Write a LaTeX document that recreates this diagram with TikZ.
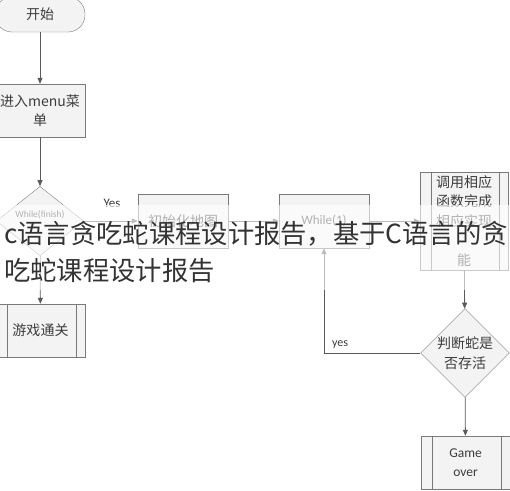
\documentclass[tikz,border=0pt]{standalone}
\usepackage{fontspec}
\setmainfont{Noto Sans CJK SC}
\newfontfamily\latinfont{Carlito}
\usepackage{xcolor}
\definecolor{edge}{HTML}{7A7A7A}
\definecolor{wire}{HTML}{5A5A5A}
\definecolor{boxfill}{HTML}{F3F3F3}
\definecolor{ink}{HTML}{3C3C3C}
\definecolor{mark}{HTML}{333333}
\usetikzlibrary{arrows.meta,shapes.geometric}

\begin{document}
\begin{tikzpicture}[x=1pt, y=-1pt,
  box/.style={draw=edge, fill=boxfill, minimum width=90pt, minimum height=54pt, inner sep=1pt, text=ink, font=\fontsize{14}{19.5}\selectfont, align=center},
  proc/.style={box, path picture={\draw[edge] ([xshift=11pt]path picture bounding box.north west) -- ([xshift=11pt]path picture bounding box.south west) ([xshift=-9pt]path picture bounding box.north east) -- ([xshift=-9pt]path picture bounding box.south east);}},
  cond/.style={diamond, draw=edge, fill=boxfill, inner sep=0pt, minimum width=87pt, minimum height=59pt, text=ink, font=\fontsize{14}{20}\selectfont, align=center},
  tag/.style={text=ink, font=\latinfont\fontsize{13}{15}\selectfont, inner sep=0pt},
  arr/.style={-{Triangle[length=6pt,width=5pt]}, wire, thick}
]
  \useasboundingbox (0,0) rectangle (510,490);
  \node[box, rounded corners=17pt, minimum height=35pt] (start) at (40,14.5) {开始};
  \node[box, minimum height=53pt] (menu) at (40,110.5) {进入menu菜\\单};
  \node[cond, font=\latinfont\fontsize{9.5}{13}\selectfont] (whilefin) at (40,221) {While(finish)\\ \phantom{Finish}};
  \node[box] (initmap) at (183,221) {初始化地图};
  \node[box, font=\latinfont\fontsize{13}{15}\selectfont] (loopbox) at (324,221) {While(1)};
  \node[proc, minimum width=88pt, minimum height=98pt] (func) at (464,221) {调用相应\\函数完成\\相应实现\\ \\能};
  \node[cond] (alive) at (465,353) {判断蛇是\\否存活};
  \node[proc, minimum width=89pt, minimum height=53pt, font=\latinfont\fontsize{13.5}{19}\selectfont] (over) at (465.5,462.5) {Game\\over};
  \node[proc, minimum width=89pt, minimum height=53pt] (pass) at (40.5,330.5) {游戏通关};
  \node[tag] (yeslbl) at (112,203) {Yes};
  \node[tag, font=\latinfont\fontsize{12}{14}\selectfont] (yesback) at (340,345) {yes};

  \draw[arr] (start) -- (menu);
  \draw[arr] (menu) -- (whilefin);
  \draw[arr] (whilefin) -- (initmap);
  \draw[arr] (initmap) -- (loopbox);
  \draw[arr] (loopbox) -- (func);
  \draw[arr] (func) -- (alive);
  \draw[arr] (alive.west) -| (loopbox.south);
  \draw[arr] (alive) -- (over);
  \draw[arr] (whilefin) -- (pass);

  % faded band behind the title
  \fill[white, opacity=0.6] (0,205) rectangle (510,290);
  \node[anchor=west, inner sep=0pt, text=mark, font=\fontsize{26.3}{37}\selectfont, align=left] (title) at (4,252.5) {c语言贪吃蛇课程设计报告，基于C语言的贪\\吃蛇课程设计报告};
\end{tikzpicture}
\end{document}
